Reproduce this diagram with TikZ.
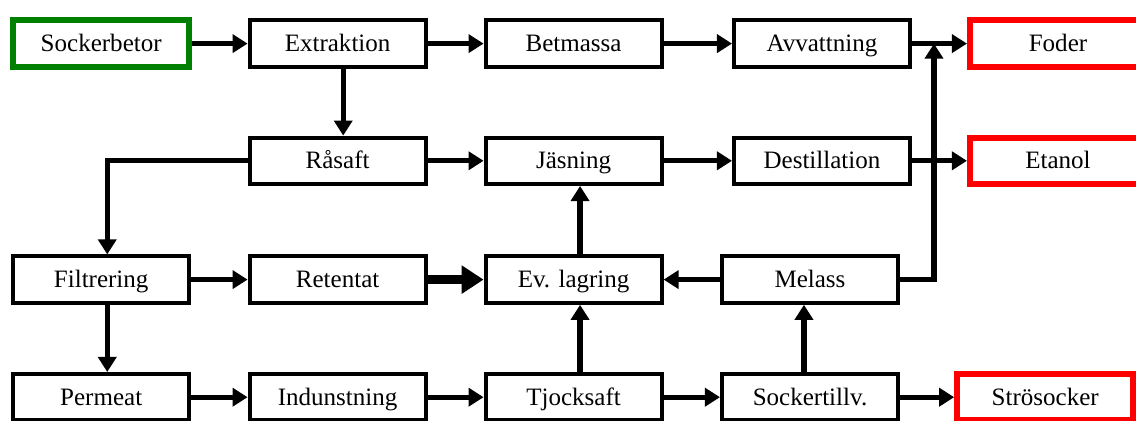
\documentclass[tikz,border=0pt]{standalone}
\usepackage{fontspec}
\setmainfont{Liberation Serif}
\usetikzlibrary{arrows.meta}

\tikzset{
  box/.style={draw, line width=2.85pt, minimum width=4.4cm, minimum height=1.16cm,
    inner sep=0pt, text height=12pt, text depth=0.5pt, font=\fontsize{17.8}{20}\selectfont},
  source/.style={box, draw=green!50!black, line width=4.3pt},
  product/.style={box, draw=red, line width=4.3pt},
  flow/.style={line width=3.8pt, -{Triangle[length=10.7pt,width=12.8pt]}},
  bigflow/.style={line width=6.6pt, -{Triangle[length=15.6pt,width=19.2pt]}},
}

\begin{document}
\begin{tikzpicture}
    \useasboundingbox (0,0) rectangle (28.4,10.5);
    % row 1
    \node[source] (sockerbetor) at (2.53,9.41) {Sockerbetor};
    \node[box] (extraktion) at (8.44,9.41) {Extraktion};
    \node[box] (betmassa) at (14.34,9.41) {Betmassa};
    \node[box] (avvattning) at (20.55,9.41) {Avvattning};
    \node[product] (foder) at (26.45,9.41) {Foder};
    % row 2
    \node[box] (rasaft) at (8.44,6.48) {Råsaft};
    \node[box] (jasning) at (14.34,6.48) {Jäsning};
    \node[box] (destillation) at (20.55,6.48) {Destillation};
    \node[product] (etanol) at (26.45,6.48) {Etanol};
    % row 3
    \node[box] (filtrering) at (2.53,3.51) {Filtrering};
    \node[box] (retentat) at (8.44,3.51) {Retentat};
    \node[box] (lagring) at (14.34,3.51) {Ev. lagring};
    \node[box] (melass) at (20.25,3.51) {Melass};
    % row 4
    \node[box] (permeat) at (2.53,0.57) {Permeat};
    \node[box] (indunstning) at (8.44,0.57) {Indunstning};
    \node[box] (tjocksaft) at (14.34,0.57) {Tjocksaft};
    \node[box] (sockertillv) at (20.25,0.57) {Sockertillv.};
    \node[product] (strosocker) at (26.13,0.57) {Strösocker};
    \coordinate (merge) at (23.35,9.41);

    \draw[flow] (sockerbetor) -- (extraktion);
    \draw[flow] (extraktion) -- (betmassa);
    \draw[flow] (betmassa) -- (avvattning);
    \draw[flow] (avvattning) -- (foder);
    \draw[flow] ([xshift=4pt]extraktion.south) -- ([xshift=4pt]rasaft.north);
    \draw[flow] (rasaft) -- (jasning);
    \draw[flow] (jasning) -- (destillation);
    \draw[flow] (destillation) -- (etanol);
    \draw[flow] (rasaft.west) -| ([xshift=4.3pt]filtrering.north);
    \draw[flow] (filtrering) -- (retentat);
    \draw[bigflow] (retentat) -- (lagring);
    \draw[flow] ([xshift=4.6pt]lagring.north) -- ([xshift=4.6pt]jasning.south);
    \draw[flow] ([xshift=4.3pt]filtrering.south) -- ([xshift=4.3pt]permeat.north);
    \draw[flow] (permeat) -- (indunstning);
    \draw[flow] (indunstning) -- (tjocksaft);
    \draw[flow] ([xshift=4.6pt]tjocksaft.north) -- ([xshift=4.6pt]lagring.south);
    \draw[flow] (tjocksaft) -- (sockertillv);
    \draw[flow] ([xshift=-4.3pt]sockertillv.north) -- ([xshift=-4.3pt]melass.south);
    \draw[flow] (melass) -- (lagring);
    \draw[flow] (sockertillv) -- (strosocker);
    \draw[flow] (melass.east) -| (merge);
\end{tikzpicture}
\end{document}
